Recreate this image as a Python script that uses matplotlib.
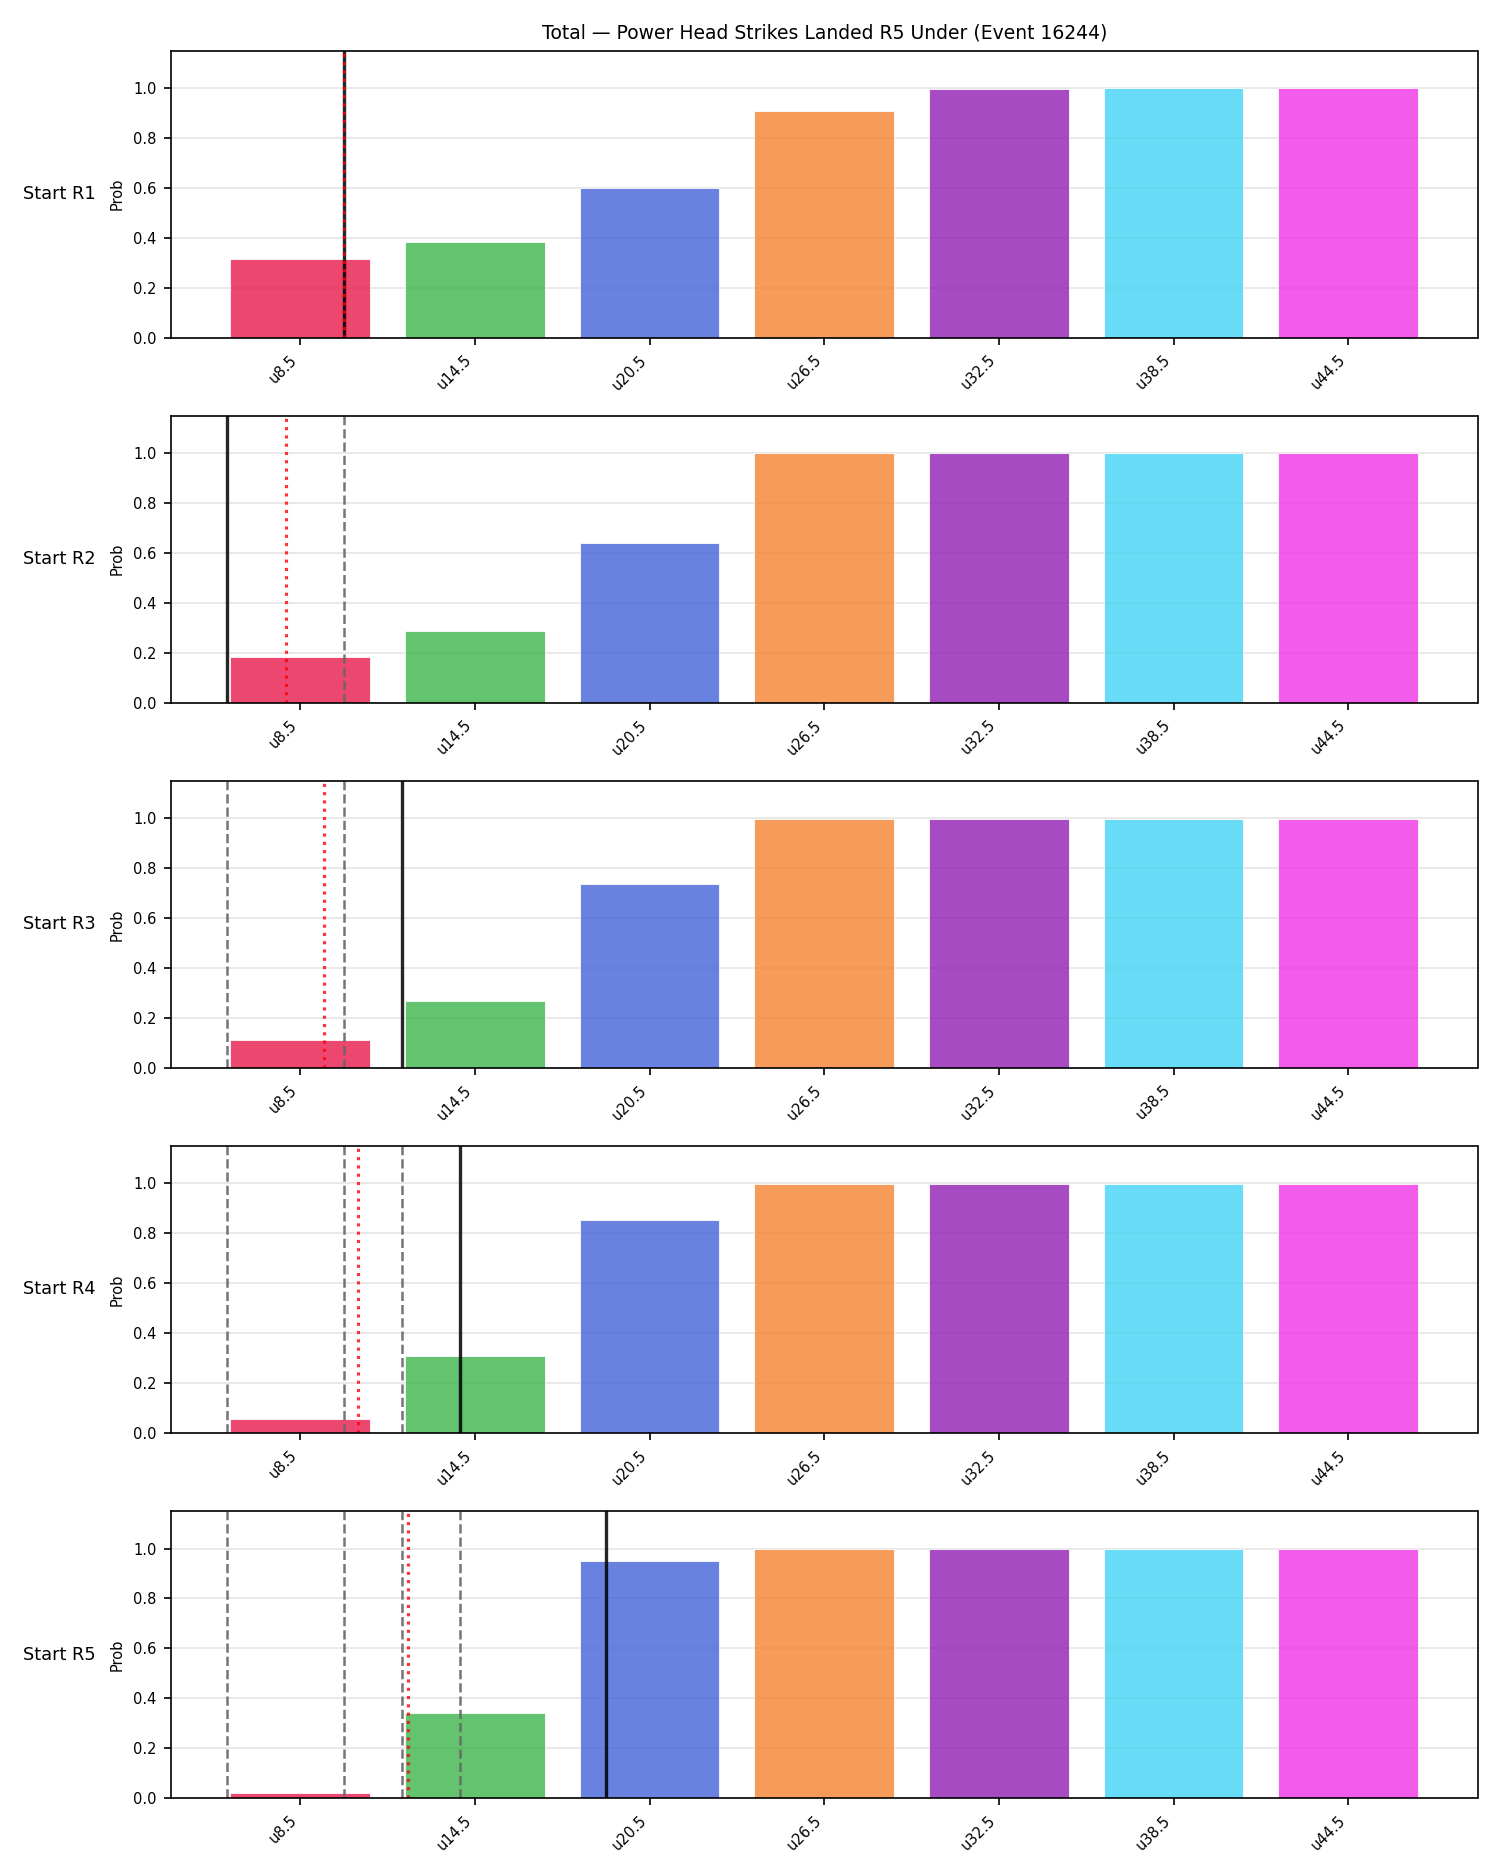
import numpy as np
import matplotlib
matplotlib.use("Agg")
import matplotlib.pyplot as plt

# strike lines (under) and their bar colours
lines = ["u8.5", "u14.5", "u20.5", "u26.5", "u32.5", "u38.5", "u44.5"]
line_values = [8.5, 14.5, 20.5, 26.5, 32.5, 38.5, 44.5]
colors = ["#e6194B", "#3cb44b", "#4363d8", "#f58231", "#911eb4", "#42d4f4", "#f032e6"]

rounds = ["Start R1", "Start R2", "Start R3", "Start R4", "Start R5"]

# probability of under, per starting round
prob_r1 = [0.315, 0.383, 0.598, 0.909, 0.998, 0.999, 0.999]
prob_r2 = [0.183, 0.287, 0.640, 0.999, 0.999, 0.999, 0.999]
prob_r3 = [0.112, 0.267, 0.736, 0.999, 0.999, 0.999, 0.999]
prob_r4 = [0.055, 0.310, 0.852, 0.999, 0.999, 0.999, 0.999]
prob_r5 = [0.021, 0.340, 0.952, 0.997, 0.999, 0.999, 0.999]
probs = [prob_r1, prob_r2, prob_r3, prob_r4, prob_r5]

# strikes landed in each round and the running average
round_strikes = [10, 6, 12, 14, 19]
running_avg = [10, 8, 9.33, 10.5, 12.2]


def to_pos(v):
    # strike count -> position on the categorical bar axis
    step = line_values[1] - line_values[0]
    return (v - line_values[0]) / step


fig, axes = plt.subplots(5, 1, figsize=(10, 12.5), dpi=150)
fig.subplots_adjust(left=0.114, right=0.985, top=0.973, bottom=0.041, hspace=0.272)

x = np.arange(len(lines))
for i, ax in enumerate(axes):
    ax.bar(x, probs[i], width=0.8, color=colors, alpha=0.8, edgecolor="white", linewidth=0.5)
    ax.grid(axis="y", color="#cccccc", alpha=0.5, linewidth=0.8)
    ax.set_axisbelow(True)

    # previous rounds
    for prev in round_strikes[:i]:
        ax.axvline(to_pos(prev), color="#666666", linestyle="--", linewidth=1.2, alpha=0.9)
    ax.axvline(to_pos(round_strikes[i]), color="black", linewidth=1.6, alpha=0.85)
    ax.axvline(to_pos(running_avg[i]), color="red", linestyle=":", linewidth=1.5, alpha=0.8)

    ax.set_xlim(-0.74, len(lines) - 1 + 0.74)
    ax.set_ylim(0, 1.15)
    ax.set_yticks([0.0, 0.2, 0.4, 0.6, 0.8, 1.0])
    ax.set_xticks(x)
    ax.set_xticklabels(lines, rotation=45, ha="right")
    ax.tick_params(labelsize=7)
    ax.set_ylabel("Prob", fontsize=7)
    ax.text(-0.113, 0.5, rounds[i], transform=ax.transAxes, ha="left", va="center", fontsize=8.5)

axes[0].set_title("Total \u2014 Power Head Strikes Landed R5 Under (Event 16244)", fontsize=9)

plt.savefig("out.png", dpi=150)
